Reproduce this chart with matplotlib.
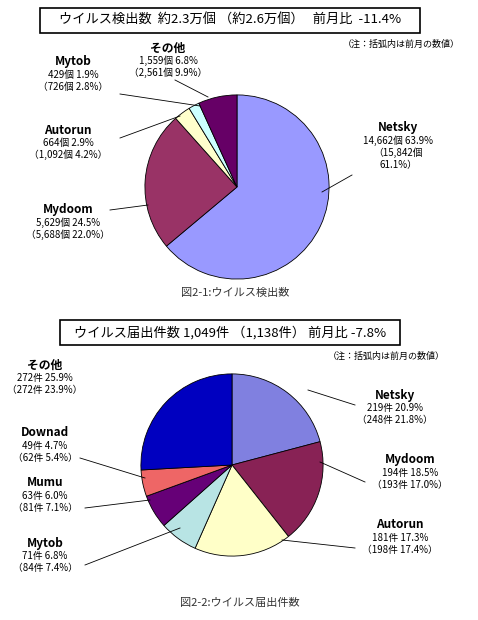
import matplotlib.pyplot as plt
from matplotlib.patches import Rectangle

plt.rcParams['font.family'] = ['Noto Sans CJK JP', 'DejaVu Sans']

# 上:ウイルス検出数
names1 = ["Netsky", "Mydoom", "Autorun", "Mytob", "その他"]
vals1 = [63.9, 24.5, 2.9, 1.9, 6.8]
cols1 = ["#9999FF", "#993366", "#FFFFCC", "#CCFFFF", "#660066"]

# 下:ウイルス届出件数
names2 = ["Netsky", "Mydoom", "Autorun", "Mytob", "Mumu", "Downad", "その他"]
vals2 = [20.9, 18.5, 17.3, 6.8, 6.0, 4.7, 25.9]
cols2 = ["#8080E0", "#882255", "#FFFFC8", "#B8E4E4", "#660077", "#EE6666", "#0000C0"]

W, H = 478, 620
fig = plt.figure(figsize=(W / 100, H / 100), dpi=100)

def pie_ax(cx, cy, r, vals, cols):
    ax = fig.add_axes([(cx - r) / W, 1 - (cy + r) / H, 2 * r / W, 2 * r / H])
    ax.pie(vals, colors=cols, startangle=90, counterclock=False,
           wedgeprops=dict(edgecolor="black", linewidth=0.6))
    ax.set_aspect("auto")
    ax.set_xlim(-1.01, 1.01)
    ax.set_ylim(-1.01, 1.01)
    return ax

pie_ax(237, 187, 93, vals1, cols1)
pie_ax(232, 465, 92, vals2, cols2)

ov = fig.add_axes([0, 0, 1, 1])
ov.set_xlim(0, W)
ov.set_ylim(H, 0)
ov.axis("off")

def box(x0, y0, x1, y1, txt):
    ov.add_patch(Rectangle((x0, y0), x1 - x0, y1 - y0, fill=False, lw=1.2, ec="black"))
    ov.text((x0 + x1) / 2, (y0 + y1) / 2, txt, ha="center", va="center", fontsize=9.5)

box(40, 8, 420, 33, "ウイルス検出数  約2.3万個 （約2.6万個）   前月比  -11.4%")
ov.text(460, 44, "（注：括弧内は前月の数値）", ha="right", va="center", fontsize=6.5)
box(60, 320, 400, 345, "ウイルス届出件数 1,049件 （1,138件） 前月比 -7.8%")
ov.text(445, 356, "（注：括弧内は前月の数値）", ha="right", va="center", fontsize=6.5)

def label(x, y, name, lines, ha="center"):
    ov.text(x, y, name, ha=ha, va="center", fontsize=8.5, fontweight="bold")
    for i, l in enumerate(lines):
        ov.text(x, y + 13 + 12 * i, l, ha=ha, va="center", fontsize=7)

def line(pts):
    ov.plot([p[0] for p in pts], [p[1] for p in pts], color="black", lw=0.6)

label(73, 62, "Mytob", ["429個 1.9%", "（726個 2.8%）"])
label(168, 48, "その他", ["1,559個 6.8%", "（2,561個 9.9%）"])
label(68, 130, "Autorun", ["664個 2.9%", "（1,092個 4.2%）"])
label(68, 210, "Mydoom", ["5,629個 24.5%", "（5,688個 22.0%）"])
label(398, 128, "Netsky", ["14,662個 63.9%", "（15,842個", "61.1%）"])
line([(120, 94), (200, 106)])
line([(175, 80), (208, 97)])
line([(120, 138), (180, 116)])
line([(352, 175), (322, 192)])
line([(110, 210), (148, 205)])
ov.text(235, 293, "図2-1:ウイルス検出数", ha="center", va="center", fontsize=8, color="#333333")

label(395, 395, "Netsky", ["219件 20.9%", "（248件 21.8%）"])
label(410, 460, "Mydoom", ["194件 18.5%", "（193件 17.0%）"])
label(400, 525, "Autorun", ["181件 17.3%", "（198件 17.4%）"])
label(45, 365, "その他", ["272件 25.9%", "（272件 23.9%）"])
label(45, 433, "Downad", ["49件 4.7%", "（62件 5.4%）"])
label(45, 483, "Mumu", ["63件 6.0%", "（81件 7.1%）"])
label(45, 543, "Mytob", ["71件 6.8%", "（84件 7.4%）"])
line([(308, 390), (355, 405)])
line([(320, 462), (365, 482)])
line([(282, 540), (355, 548)])
line([(80, 458), (145, 478)])
line([(85, 508), (150, 500)])
line([(85, 565), (180, 528)])
ov.text(240, 603, "図2-2:ウイルス届出件数", ha="center", va="center", fontsize=8, color="#333333")

fig.savefig("out.png", dpi=100)
